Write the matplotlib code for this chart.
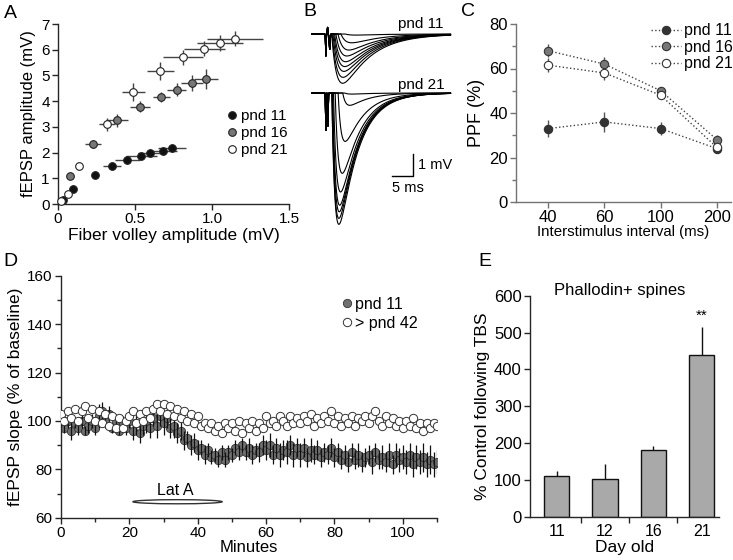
import numpy as np
import matplotlib
matplotlib.use("Agg")
import matplotlib.pyplot as plt
from matplotlib.patches import Ellipse

plt.rcParams['font.family'] = ['Liberation Sans', 'DejaVu Sans']
plt.rcParams['font.size'] = 11

# ---------------- panel A: input/output
A11_x    = [0.03, 0.097, 0.24, 0.35, 0.45, 0.54, 0.60, 0.68, 0.74]
A11_y    = [0.16, 0.57, 1.13, 1.48, 1.71, 1.88, 1.97, 2.08, 2.17]
A11_xerr = [0.01, 0.01, 0.02, 0.06, 0.08, 0.10, 0.08, 0.09, 0.09]
A11_yerr = [0.03, 0.05, 0.06, 0.08, 0.08, 0.09, 0.09, 0.10, 0.10]
A16_x    = [0.076, 0.227, 0.383, 0.53, 0.67, 0.77, 0.87, 0.96]
A16_y    = [1.10, 2.34, 3.25, 3.79, 4.17, 4.44, 4.70, 4.86]
A16_xerr = [0.02, 0.05, 0.07, 0.065, 0.055, 0.06, 0.07, 0.08]
A16_yerr = [0.10, 0.15, 0.25, 0.20, 0.20, 0.25, 0.30, 0.40]
A21_x    = [0.017, 0.065, 0.136, 0.318, 0.49, 0.665, 0.81, 0.95, 1.05, 1.15]
A21_y    = [0.10, 0.39, 1.48, 3.10, 4.34, 5.18, 5.70, 6.04, 6.26, 6.43]
A21_xerr = [0.01, 0.01, 0.02, 0.05, 0.075, 0.09, 0.13, 0.135, 0.15, 0.18]
A21_yerr = [0.05, 0.05, 0.15, 0.25, 0.35, 0.35, 0.30, 0.30, 0.30, 0.30]

# ---------------- panel B: trough amplitudes (mV) and trough times (ms)
B11_amp = [0.05, 0.40, 0.73, 1.00, 1.26, 1.48, 1.70, 1.97, 2.24]
B11_tpk = [10.5, 9.5, 8.8, 8.3, 8.0, 7.8, 7.6, 7.4, 7.3]
B21_amp = [0.05, 0.56, 2.20, 3.65, 4.50, 5.10, 5.40, 5.70, 5.97]
B21_tpk = [9.5, 9.0, 7.9, 7.2, 6.8, 6.6, 6.5, 6.4, 6.4]

# ---------------- panel C: PPF
C_isi   = ["40", "60", "100", "200"]
C11     = [33, 36, 33, 24]
C11_err = [4, 4.5, 3, 2]
C16     = [68, 62, 50, 28]
C16_err = [3, 3, 1.5, 2]
C21     = [61.5, 58, 48, 24.5]
C21_err = [3, 3, 1.5, 2]

# ---------------- panel D: LTP time course, one point per minute
D_t = np.arange(0, 111, 1)
D11 = [101, 97, 100, 96, 99, 97, 100, 96, 98, 100,
       97, 102, 104, 100, 103, 97, 100, 96, 99, 97,
       100, 96, 99, 95, 98, 100, 97, 101, 98, 102,
       99, 101, 97, 98, 95, 96, 92, 93, 90, 91,
       88, 89, 86, 88, 85, 86, 84, 87, 84, 87,
       86, 89, 87, 90, 87, 89, 86, 88, 87, 90,
       88, 90, 86, 89, 86, 88, 87, 90, 86, 89,
       86, 89, 85, 88, 86, 88, 85, 87, 86, 89,
       85, 87, 84, 86, 83, 87, 84, 86, 83, 85,
       86, 83, 87, 84, 85, 83, 86, 82, 86, 84,
       85, 83, 86, 82, 85, 83, 85, 82, 84, 82,
       83]
D11_err = [3, 2, 3, 4, 2, 3, 3, 2, 3, 3,
           3, 5, 4, 3, 3, 2, 3, 2, 3, 3,
           3, 4, 5, 4, 4, 5, 4, 3, 5, 4,
           5, 4, 4, 5, 4, 4, 4, 3, 4, 4,
           4, 3, 4, 3, 3, 3, 3, 3, 3, 3,
           3, 3, 3, 3, 3, 4, 4, 3, 4, 4,
           4, 5, 4, 4, 5, 4, 5, 4, 5, 4,
           5, 4, 4, 5, 4, 4, 4, 4, 4, 4,
           4, 4, 4, 4, 4, 4, 4, 5, 4, 4,
           4, 5, 4, 4, 5, 4, 5, 4, 5, 5,
           5, 5, 5, 5, 5, 5, 6, 5, 6, 5,
           5]
D42 = [103, 100, 104, 101, 105, 100, 104, 106, 101, 105,
       100, 104, 99, 103, 98, 102, 97, 101, 97, 100,
       102, 104, 99, 103, 100, 104, 101, 105, 107, 104,
       107, 103, 106, 102, 105, 101, 104, 100, 103, 99,
       102, 98, 99, 97, 99, 96, 98, 95, 99, 97,
       99, 96, 100, 95, 99, 97, 100, 96, 99, 97,
       102, 99, 100, 98, 102, 100, 98, 102, 99, 101,
       99, 102, 100, 103, 98, 101, 99, 102, 100, 104,
       99, 102, 98, 101, 99, 102, 98, 101, 100, 102,
       99, 102, 104, 100, 98, 102, 99, 101, 98, 100,
       97, 100, 98, 101, 97, 99, 96, 99, 97, 99,
       98]
D42_err = 1.5

# ---------------- panel E: phalloidin bars
E_day = ["11", "12", "16", "21"]
E_val = [110, 103, 180, 440]
E_err = [15, 40, 13, 75]


def style_axes(ax, color='0.15'):
	ax.spines['top'].set_visible(False)
	ax.spines['right'].set_visible(False)
	for s in ['left', 'bottom']:
		ax.spines[s].set_color(color)
		ax.spines[s].set_linewidth(1)
	ax.tick_params(which='both', direction='out', color=color, width=1, labelsize=11, pad=2)
	ax.tick_params(which='major', length=4)
	ax.tick_params(which='minor', length=3)


def epsp(t, amp, tpk, tr, td):
	shift = tr*td/(td-tr)*np.log(td/tr)
	s = np.clip(t - (tpk - shift), 0, None)
	f = np.exp(-s/td) - np.exp(-s/tr)
	norm = np.exp(-shift/td) - np.exp(-shift/tr)
	return -amp*f/norm


fig = plt.figure(figsize=(7.33, 5.6), dpi=100)

# ================= A
axA = fig.add_axes([58/733, 1-204/560, 231/733, 180/560])
style_axes(axA)
for xs, ys, xe, ye, fc, lab in [(A11_x, A11_y, A11_xerr, A11_yerr, '#111111', 'pnd 11'),
                                (A16_x, A16_y, A16_xerr, A16_yerr, '#777777', 'pnd 16'),
                                (A21_x, A21_y, A21_xerr, A21_yerr, 'white', 'pnd 21')]:
	axA.errorbar(xs, ys, xerr=xe, yerr=ye, fmt='none', ecolor='#444444', elinewidth=1, capsize=0, clip_on=False, zorder=2)
	axA.plot(xs, ys, 'o', ms=5.5, mfc=fc, mec='#222222', mew=0.8, ls='', label=lab, clip_on=False, zorder=3)
axA.set_xlim(0, 1.5)
axA.set_ylim(0, 7)
axA.set_xticks([0, 0.5, 1.0, 1.5])
axA.set_xticklabels(['0', '0.5', '1.0', '1.5'])
axA.set_yticks(range(8))
axA.set_xlabel("Fiber volley amplitude (mV)", fontsize=12.5, labelpad=1)
axA.set_ylabel("fEPSP amplitude (mV)", fontsize=12, labelpad=4)
axA.legend(loc='lower right', bbox_to_anchor=(1.02, 0.225), frameon=False, handletextpad=0.1,
           handlelength=1.0, labelspacing=0.2, fontsize=11, borderaxespad=0)

# ================= B
axB = fig.add_axes([305/733, 1-290/560, 155/733, 270/560])
axB.axis('off')
axB.set_xlim(-7/4.2, (460-312)/4.2)
axB.set_ylim((34-290)/22., (34-20)/22.)
t = np.arange(0, 33, 0.02)
off21 = -(93-34)/22.
for amp, tpk in zip(B11_amp, B11_tpk):
	v = epsp(t, amp, tpk, 1.3, 6.5)
	v = v - 1.0*np.exp(-((t-3.3)/0.1)**2) + 0.3*np.exp(-((t-3.7)/0.1)**2) - 0.7*np.exp(-((t-4.2)/0.15)**2)
	axB.plot(t, v, color='k', lw=0.8)
for amp, tpk in zip(B21_amp, B21_tpk):
	v = epsp(t, amp, tpk, 0.8, 4.5)
	v = v - 1.7*np.exp(-((t-3.3)/0.1)**2) - 1.5*np.exp(-((t-3.8)/0.1)**2)
	axB.plot(t, v + off21, color='k', lw=0.8)
axB.text(26, 0.45, "pnd 11", ha='center', va='center', fontsize=11)
axB.text(26, off21 + 0.35, "pnd 21", ha='center', va='center', fontsize=11)
# scale bar 5 ms / 1 mV
sbx, sby = (413.3-312)/4.2, (34-176)/22.
axB.plot([sbx-5, sbx, sbx], [sby, sby, sby+1], color='k', lw=1)
axB.text(sbx+1.0, sby+0.5, "1 mV", va='center', ha='left', fontsize=10.5)
axB.text(sbx-5, sby-0.55, "5 ms", va='center', ha='left', fontsize=10.5)

# ================= C
axC = fig.add_axes([516/733, 1-202/560, 215/733, 178/560])
style_axes(axC, color='0.45')
xc = np.arange(len(C_isi))
for ys, ye, fc, lab in [(C11, C11_err, '#333333', 'pnd 11'),
                        (C16, C16_err, '#777777', 'pnd 16'),
                        (C21, C21_err, 'white', 'pnd 21')]:
	axC.errorbar(xc, ys, yerr=ye, fmt='none', ecolor='#555555', elinewidth=1, capsize=0, zorder=2)
	axC.plot(xc, ys, ':', color='#444444', lw=1, marker='o', ms=6, mfc=fc, mec='#333333', mew=0.8, label=lab, zorder=3)
axC.set_xlim(-0.57, 3.25)
axC.set_ylim(0, 80)
axC.set_xticks(xc)
axC.set_xticklabels(C_isi, fontsize=12)
axC.set_yticks([0, 20, 40, 60, 80])
axC.set_yticks([10, 30, 50, 70], minor=True)
axC.tick_params(axis='y', labelsize=12)
axC.set_xlabel("Interstimulus interval (ms)", fontsize=10.8, labelpad=0)
axC.set_ylabel("PPF (%)", fontsize=13, labelpad=3)
axC.legend(loc='upper right', bbox_to_anchor=(1.04, 1.04), frameon=False, handletextpad=0.2,
           handlelength=1.9, labelspacing=0.1, fontsize=11.5, borderaxespad=0)

# ================= D
axD = fig.add_axes([61/733, 1-517.7/560, 376/733, 242/560])
style_axes(axD)
axD.plot(D_t, D11, 'o', ms=6, mfc='#707070', mec='#333333', mew=0.6, ls='', label='pnd 11', zorder=2)
axD.errorbar(D_t, D11, yerr=D11_err, fmt='none', ecolor='#111111', elinewidth=0.9, capsize=0, zorder=3)
axD.errorbar(D_t, D42, yerr=D42_err, fmt='none', ecolor='#333333', elinewidth=0.8, capsize=0, zorder=4)
axD.plot(D_t, D42, 'o', ms=6, mfc='white', mec='#333333', mew=0.7, ls='', label='> pnd 42', zorder=5)
axD.set_xlim(0, 110)
axD.set_ylim(60, 160)
axD.set_xticks(range(0, 101, 20))
axD.set_xticks(range(10, 111, 20), minor=True)
axD.set_yticks(range(60, 161, 20))
axD.set_yticks(range(70, 160, 20), minor=True)
axD.tick_params(labelsize=11)
axD.set_xlabel("Minutes", fontsize=12, labelpad=0)
axD.set_ylabel("fEPSP slope (% of baseline)", fontsize=12.5, labelpad=3)
axD.legend(loc='upper right', bbox_to_anchor=(0.966, 0.94), frameon=False, handletextpad=0.0,
           handlelength=1.0, labelspacing=0.25, fontsize=11.5, borderaxespad=0)
axD.add_patch(Ellipse((34.1, 66.6), 26.1, 1.7, fill=False, ec='#333333', lw=1))
axD.text(33.4, 71.2, "Lat A", ha='center', va='center', fontsize=11.5)

# ================= E
axE = fig.add_axes([530/733, 1-516.7/560, 189/733, 221/560])
style_axes(axE)
xe = np.arange(len(E_day))
axE.bar(xe, E_val, width=0.52, color='#a9a9a9', edgecolor='#111111', lw=1, zorder=2)
axE.errorbar(xe, E_val, yerr=[np.zeros(len(E_val)), E_err], fmt='none', ecolor='#111111', elinewidth=1, capsize=0, zorder=1)
axE.set_xlim(-0.553, 3.36)
axE.set_ylim(0, 600)
axE.set_yticks(range(0, 601, 100))
axE.tick_params(axis='y', labelsize=12)
axE.set_xticks([0.5, 1.5, 2.5])
axE.set_xticklabels([])
axE.set_xticks(xe, minor=True)
axE.set_xticklabels(E_day, minor=True, fontsize=11.5)
axE.tick_params(axis='x', which='minor', length=0, pad=5)
axE.set_xlabel("Day old", fontsize=12.5, labelpad=1)
axE.set_ylabel("% Control following TBS", fontsize=12.5, labelpad=3)
axE.text(1.31, 615, "Phallodin+ spines", ha='center', va='center', fontsize=12)
axE.text(3, E_val[3] + E_err[3] + 30, "**", ha='center', va='center', fontsize=11)

# panel letters
for lab, x, y in [('A', 10, 13), ('B', 310, 11), ('C', 468, 12), ('D', 10, 262), ('E', 485, 262)]:
	fig.text(x/733, 1-y/560, lab, fontsize=14, ha='center', va='center')

fig.savefig("out.png", dpi=100)
